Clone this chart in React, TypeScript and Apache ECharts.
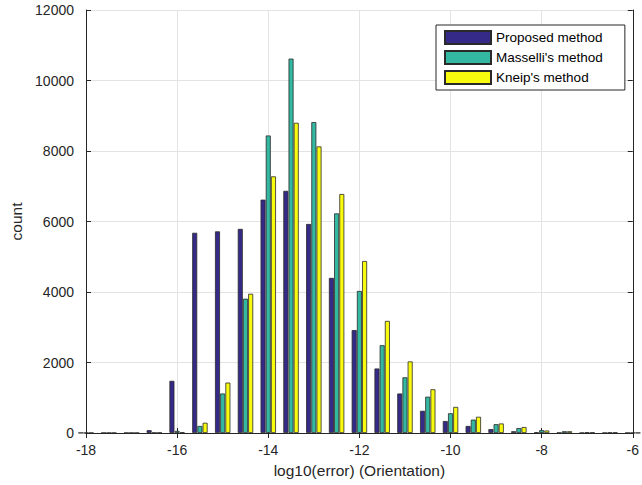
import React, { useEffect, useRef } from "react";
import * as echarts from "echarts";

const bins = [-18, -17.5, -17, -16.5, -16, -15.5, -15, -14.5, -14, -13.5, -13, -12.5, -12, -11.5, -11, -10.5, -10, -9.5, -9, -8.5, -8, -7.5, -7, -6.5, -6];
const proposed = [5, 5, 5, 80, 1480, 5680, 5720, 5790, 6620, 6870, 5930, 4400, 2920, 1830, 1120, 630, 340, 200, 110, 50, 20, 10, 5, 5, 5];
const masselli = [5, 5, 5, 10, 60, 200, 1120, 3810, 8440, 10620, 8820, 6230, 4030, 2490, 1580, 1030, 560, 380, 250, 140, 80, 50, 20, 15, 5];
const kneip = [5, 5, 5, 10, 20, 290, 1430, 3950, 7280, 8800, 8130, 6780, 4880, 3180, 2030, 1240, 740, 460, 270, 170, 70, 50, 15, 15, 5];
const seriesNames = ["Proposed method", "Masselli's method", "Kneip's method"];
const xTicks = { min: -18, max: -6, interval: 2 };
const yTicks = { min: 0, max: 12000, interval: 2000 };

const colors = ["#352a87", "#33b8a1", "#f9fb0e"];
const font = "'Liberation Sans', Arial, Helvetica, sans-serif";
const axisColor = "#262626";

export default function App() {
  const ref = useRef<HTMLDivElement>(null);
  useEffect(() => {
    if (!ref.current) return;
    const chart = echarts.init(ref.current, undefined, { renderer: "svg" });
    const values = [proposed, masselli, kneip];
    const baseAxis = {
      axisLine: { show: true, lineStyle: { color: axisColor, width: 1 } },
      axisTick: { show: true, inside: true, length: 5, lineStyle: { color: axisColor } },
    };
    chart.setOption({
      animation: false,
      backgroundColor: "#ffffff",
      textStyle: { fontFamily: font },
      grid: { left: 83, right: 6, top: 10, bottom: 52, containLabel: false },
      legend: {
        orient: "vertical",
        left: 436,
        top: 25,
        itemWidth: 46,
        itemHeight: 13,
        itemGap: 5,
        padding: [5, 22, 5, 8],
        backgroundColor: "#ffffff",
        borderColor: axisColor,
        borderWidth: 1,
        icon: "rect",
        textStyle: { fontSize: 13.5, lineHeight: 13, color: "#000000", fontFamily: font },
        data: seriesNames,
      },
      xAxis: [
        {
          type: "value",
          ...xTicks,
          ...baseAxis,
          name: "log10(error) (Orientation)",
          nameLocation: "middle",
          nameGap: 29,
          nameTextStyle: { fontSize: 15.5, color: axisColor, fontFamily: font },
          axisLabel: { fontSize: 14, color: axisColor, margin: 10, fontFamily: font, formatter: (v: number) => String(v) },
          splitLine: { show: true, lineStyle: { color: "#e3e3e3", width: 1 } },
        },
        {
          type: "value",
          position: "top",
          ...xTicks,
          ...baseAxis,
          axisLabel: { show: false },
          splitLine: { show: false },
        },
      ],
      yAxis: [
        {
          type: "value",
          ...yTicks,
          ...baseAxis,
          name: "count",
          nameLocation: "middle",
          nameGap: 62,
          nameRotate: 90,
          nameTextStyle: { fontSize: 15.5, color: axisColor, fontFamily: font },
          axisLabel: { fontSize: 14, color: axisColor, margin: 12, fontFamily: font, formatter: (v: number) => String(v) },
          splitLine: { show: true, lineStyle: { color: "#e3e3e3", width: 1 } },
        },
        {
          type: "value",
          position: "right",
          ...yTicks,
          ...baseAxis,
          axisLabel: { show: false },
          splitLine: { show: false },
        },
      ],
      series: seriesNames.map((name, i) => ({
        name,
        type: "bar",
        xAxisIndex: 0,
        yAxisIndex: 0,
        barWidth: 5,
        barGap: "4%",
        clip: true,
        itemStyle: { color: colors[i], borderColor: "#2a2a2a", borderWidth: 0.8 },
        data: bins.map((b, j) => [b, values[i][j]]),
      })),
    });
    return () => chart.dispose();
  }, []);
  return <div ref={ref} style={{ position: "fixed", left: 0, top: 0, width: 642, height: 485 }} />;
}
